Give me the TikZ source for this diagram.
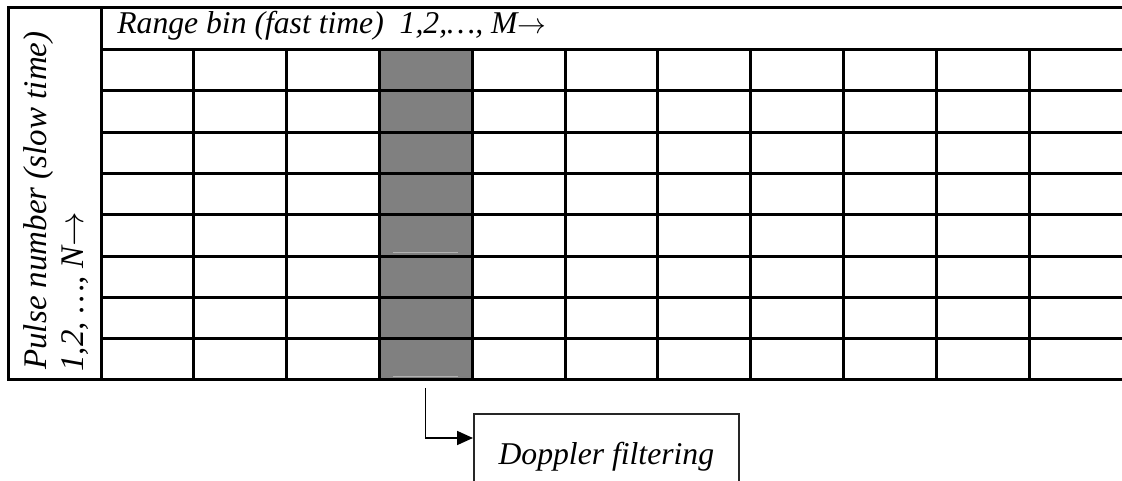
\documentclass[tikz,border=0pt]{standalone}
\usepackage{fontspec}
\setmainfont{Liberation Serif}
\usetikzlibrary{arrows.meta}

\begin{document}
\begin{tikzpicture}[x=0.6pt, y=-0.6pt, font=\fontsize{19}{22}\selectfont\itshape]
\useasboundingbox (0,0) rectangle (1122,481);
\clip (0,0) rectangle (1122,481);
% shaded range bin
\fill[gray] (379.5,49.5) rectangle (472.3,380);
\draw[black!30, line width=0.6pt] (393,253) -- (458,253);
\draw[black!30, line width=0.6pt] (393,377) -- (458,377);
% grid
\begin{scope}[line width=1.8pt]
\draw (1122,8) -- (8,8) -- (8,380) -- (1122,380);
\draw (101,8) -- (101,380);
\foreach \k in {0,...,7} \draw (101,49.5+41.31*\k) -- (1122,49.5+41.31*\k);
\foreach \j in {1,...,10} \draw (101+92.82*\j,49.5) -- (101+92.82*\j,380);
\end{scope}
\node[anchor=base west, inner sep=0] (rangelbl) at (117,34) {Range bin (fast time)\ \ 1,2,…, M$\rightarrow$};
\node[rotate=90, anchor=base west, inner sep=0, font=\fontsize{19.8}{22}\selectfont\itshape] (pulselbl) at (46,370) {Pulse number (slow time)};
\node[rotate=90, anchor=base west, inner sep=0, font=\fontsize{19.8}{22}\selectfont\itshape] (pulsenum) at (83,372) {1,2, …, N$\rightarrow$};
% doppler block
\node[draw=black!85, line width=1pt, minimum width=159pt, minimum height=51.6pt, anchor=north west] (doppler) at (473,413) {Doppler filtering\hspace{6pt}};
\coordinate (colfoot) at (425.5,388);
\draw[line width=1pt, -{Triangle[length=9.6pt,width=8.4pt]}] (colfoot) |- ([yshift=-15pt]doppler.north west);
\end{tikzpicture}
\end{document}
